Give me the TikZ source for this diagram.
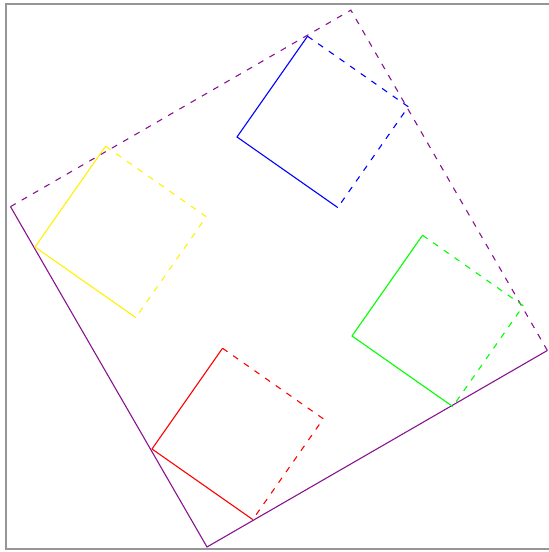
\documentclass[tikz,border=0pt]{standalone}
\usepackage{tikz}
\definecolor{framepurple}{RGB}{135,20,145}
\definecolor{bordergray}{RGB}{150,150,150}

\begin{document}
\begin{tikzpicture}[x=1pt,y=1pt,
	solidside/.style={line width=1.1pt},
	dashside/.style={line width=1.1pt, dash pattern=on 6pt off 7pt}]

	\useasboundingbox (0,0) rectangle (549,552);
	\draw[bordergray, line width=2pt] (549,547.5) -- (5.5,547.5) -- (5.5,2.5) -- (549,2.5);

	\begin{scope}[shift={(207,5)}, rotate=30]
		\draw[framepurple, solidside] (0,393) -- (0,0) -- (393,0);
		\draw[framepurple, dashside] (0,393) -- (393,393) -- (393,0);
	\end{scope}

	\foreach \px/\py/\col in {35/305/yellow, 237/415/blue, 352/216/green, 152/103/red} {
		\begin{scope}[shift={(\px,\py)}, rotate=-35]
			\draw[\col, solidside] (0,123) -- (0,0) -- (123,0);
			\draw[\col, dashside] (0,123) -- (123,123) -- (123,0);
		\end{scope}
	}

\end{tikzpicture}
\end{document}
